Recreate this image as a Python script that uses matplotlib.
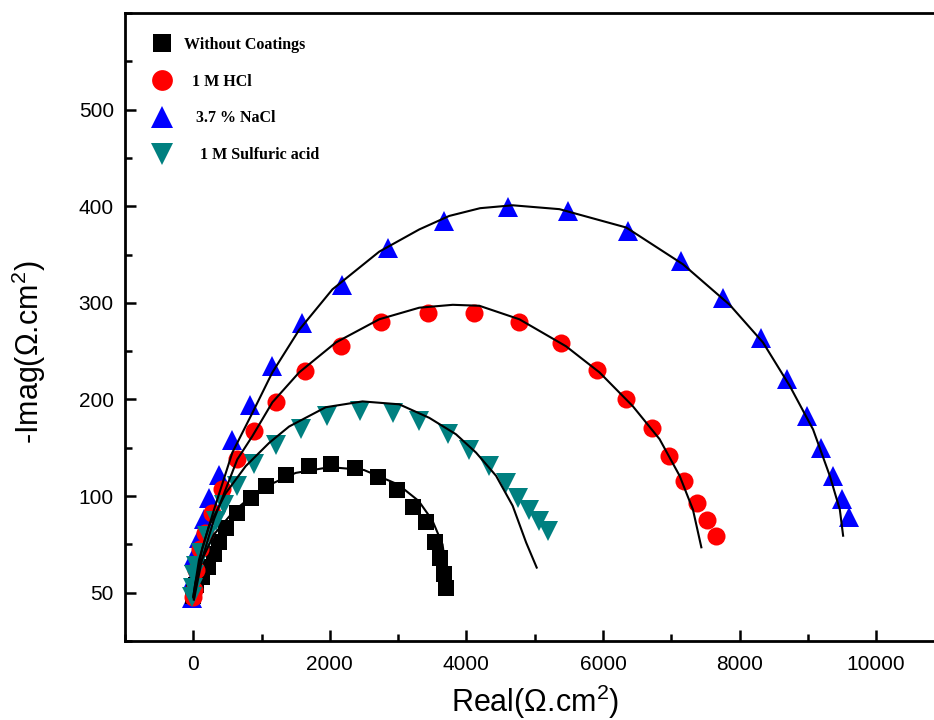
import matplotlib
matplotlib.use('Agg')
import matplotlib.pyplot as plt
from matplotlib.ticker import MultipleLocator, FixedLocator, FixedFormatter

plt.rcParams['font.family'] = ['Liberation Sans', 'DejaVu Sans']
plt.rcParams['mathtext.default'] = 'regular'

# Without Coatings (black squares)
bx = [0, 10, 40, 128, 220, 304, 377, 475, 645, 842, 1062, 1355, 1697, 2023, 2367,
      2698, 2987, 3221, 3412, 3540, 3620, 3665, 3695]
by = [-3, 3, 8, 16, 27, 40, 52, 67, 83, 98, 110, 122, 131, 133, 129,
      120, 106, 89, 73, 53, 36, 19, 5]
bfit_x = [0, 30, 100, 300, 600, 1000, 1500, 2000, 2500, 3000, 3300, 3500, 3650, 3720]
bfit_y = [-5, 10, 30, 60, 85, 108, 124, 130, 127, 112, 95, 75, 50, 15]

# 1 M HCl (red circles)
rx = [0, 10, 40, 98, 172, 279, 425, 645, 890, 1208, 1633, 2161, 2748, 3431, 4116,
      4776, 5387, 5909, 6340, 6721, 6965, 7180, 7375, 7522, 7660]
ry = [-4, 3, 24, 45, 62, 83, 107, 138, 167, 197, 229, 255, 280, 290, 290,
      280, 258, 231, 201, 171, 141, 116, 93, 75, 59]
rfit_x = [10, 130, 304, 645, 865, 1158, 1550, 2088, 2723, 3309, 3800, 4189, 4776,
          5460, 5949, 6437, 6828, 7122, 7317, 7440]
rfit_y = [-7, 35, 76, 138, 162, 197, 228, 259, 283, 295, 298, 297, 283,
          255, 228, 193, 159, 121, 86, 47]

# 3.7 % NaCl (blue triangles)
nx = [-15, -10, 10, 84, 157, 230, 377, 572, 827, 1150, 1598, 2185, 2845, 3676, 4604,
      5484, 6364, 7146, 7762, 8320, 8701, 8988, 9199, 9370, 9493, 9604]
ny = [-5, 14, 38, 57, 76, 98, 122, 158, 194, 235, 279, 318, 357, 385, 399,
      395, 374, 343, 305, 264, 221, 183, 150, 121, 97, 78]
nfit_x = [10, 25, 128, 304, 572, 865, 1158, 1550, 2038, 2723, 3309, 3749, 4200, 4677,
          5362, 6340, 7170, 7855, 8343, 8735, 9076, 9321, 9468, 9516]
nfit_y = [-7, 4, 45, 86, 145, 186, 228, 272, 314, 353, 376, 390, 398, 401,
          397, 378, 340, 298, 259, 214, 169, 121, 86, 59]

# 1 M Sulfuric acid (teal down triangles)
sx = [-15, 0, 10, 40, 108, 205, 328, 450, 645, 890, 1208, 1575, 1965, 2445, 2918,
      3310, 3724, 4042, 4336, 4581, 4751, 4922, 5069, 5191]
sy = [-4, 5, 18, 28, 41, 59, 74, 91, 110, 133, 153, 169, 183, 188, 186,
      178, 164, 148, 131, 114, 98, 86, 74, 64]
sfit_x = [0, 84, 230, 475, 768, 1110, 1403, 1941, 2478, 3016, 3456, 3847, 4141,
          4434, 4677, 4874, 5029]
sfit_y = [-4, 34, 69, 103, 131, 155, 172, 192, 198, 195, 181, 164, 145,
          121, 90, 52, 26]

ytick_vals = [0, 100, 200, 300, 400, 500]
ytick_labels = ['50', '100', '200', '300', '400', '500']

fig = plt.figure(figsize=(9.34, 7.2), dpi=100)
ax = fig.add_axes([0.1338, 0.1097, 0.8774, 0.8722])

ax.plot(bx, by, 's', color='black', ms=11, mew=0, zorder=3, label='Without Coatings')
ax.plot(rx, ry, 'o', color='#ff0000', ms=13, mew=0, zorder=3, label='  1 M HCl')
ax.plot(nx, ny, '^', color='#0000ff', ms=14, mew=0, zorder=2, label='   3.7 % NaCl')
ax.plot(sx, sy, 'v', color='#008080', ms=14, mew=0, zorder=4, label='    1 M Sulfuric acid')

for fx, fy in [(bfit_x, bfit_y), (rfit_x, rfit_y), (nfit_x, nfit_y), (sfit_x, sfit_y)]:
    ax.plot(fx, fy, '-', color='black', lw=1.5, zorder=5)

ax.set_xlim(-1000, 11000)
ax.set_ylim(-50, 600)

ax.xaxis.set_major_locator(MultipleLocator(2000))
ax.xaxis.set_minor_locator(MultipleLocator(1000))
ax.yaxis.set_major_locator(FixedLocator(ytick_vals))
ax.yaxis.set_major_formatter(FixedFormatter(ytick_labels))
ax.yaxis.set_minor_locator(MultipleLocator(50))

ax.tick_params(which='both', direction='in', width=1.8, labelsize=15)
ax.tick_params(which='major', length=8)
ax.tick_params(which='minor', length=5)
ax.tick_params(axis='x', pad=10)
ax.tick_params(axis='y', pad=8)
for s in ax.spines.values():
    s.set_linewidth(2)

ax.set_xlabel('Real(Ω.cm$^2$)', fontsize=22, labelpad=6)
ax.set_ylabel('-Imag(Ω.cm$^2$)', fontsize=22)
ax.yaxis.set_label_coords(-0.094, 0.46)

ax.legend(loc='upper left', bbox_to_anchor=(0.031, 0.962), frameon=False,
          borderpad=0, borderaxespad=0, handlelength=1.5, handletextpad=0.6,
          labelspacing=1.3, numpoints=1, markerscale=1.15,
          prop={'family': 'Liberation Serif', 'weight': 'bold', 'size': 11.5})

fig.savefig('out.png', dpi=100)
